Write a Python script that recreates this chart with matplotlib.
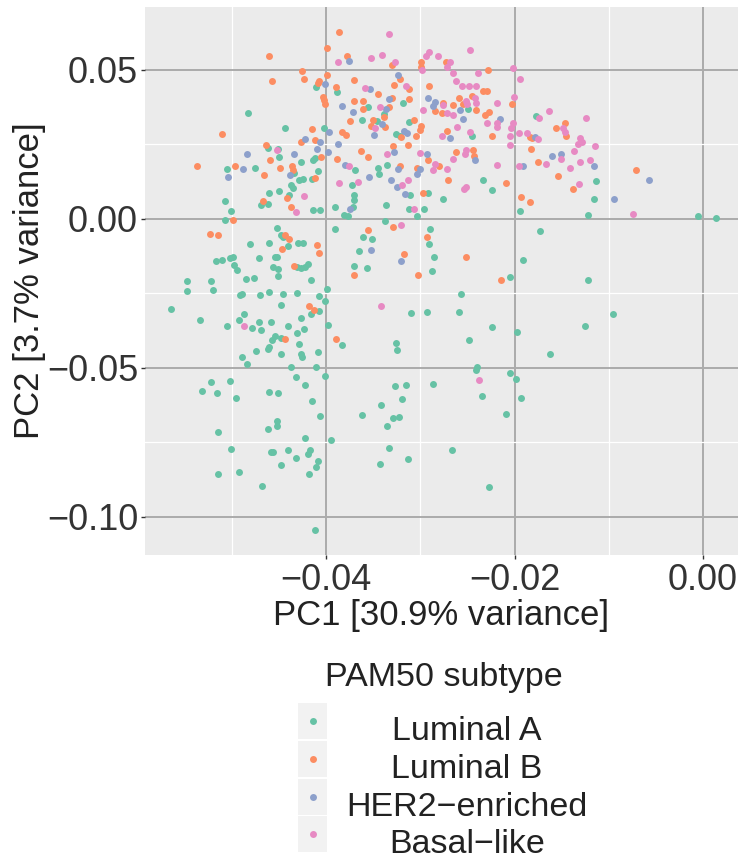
import numpy as np
import matplotlib.pyplot as plt
from matplotlib.ticker import FixedLocator, FuncFormatter
from matplotlib.patches import Rectangle

plt.rcParams['font.family'] = ['Liberation Sans', 'DejaVu Sans']

subtypes = ['Luminal A', 'Luminal B', 'HER2\u2212enriched', 'Basal\u2212like']
colors = ['#66C2A5', '#FC8D62', '#8DA0CB', '#E78AC3']

x_ticks = [-0.04, -0.02, 0.00]
y_ticks = [-0.10, -0.05, 0.00, 0.05]

# (PC1, PC2) per sample
lum_a = [
    (-0.0411, 0.0441), (-0.0388, 0.0425), (-0.0483, 0.0356), (-0.0444, 0.0305), (-0.0402, 0.0305),
    (-0.0462, 0.0237), (-0.0451, 0.0235), (-0.0412, 0.0204), (-0.0414, 0.0196), (-0.0450, 0.0206),
    (-0.0426, 0.0192), (-0.0505, 0.0167), (-0.0475, 0.0171), (-0.0434, 0.0155), (-0.0409, 0.0162),
    (-0.0415, 0.0133), (-0.0429, 0.0131), (-0.0424, 0.0133), (-0.0437, 0.0112), (-0.0435, 0.0103),
    (-0.0460, 0.0086), (-0.0450, 0.0093), (-0.0439, 0.0081), (-0.0507, 0.0059), (-0.0469, 0.0047),
    (-0.0462, 0.0050), (-0.0501, 0.0028), (-0.0414, 0.0030), (-0.0406, 0.0030), (-0.0390, 0.0041),
    (-0.0381, 0.0013), (-0.0507, -0.0004), (-0.0452, -0.0031), (-0.0448, -0.0054), (-0.0446, -0.0061),
    (-0.0390, -0.0034), (-0.0481, -0.0084), (-0.0460, -0.0082), (-0.0440, -0.0091), (-0.0430, -0.0082),
    (-0.0424, -0.0082), (-0.0452, -0.0127), (-0.0454, -0.0128), (-0.0471, -0.0132), (-0.0517, -0.0140),
    (-0.0510, -0.0137), (-0.0502, -0.0130), (-0.0499, -0.0127), (-0.0498, -0.0154), (-0.0494, -0.0171),
    (-0.0431, -0.0163), (-0.0426, -0.0165), (-0.0419, -0.0152), (-0.0422, -0.0160), (-0.0456, -0.0163),
    (-0.0451, -0.0169), (-0.0451, -0.0191), (-0.0485, -0.0202), (-0.0476, -0.0199), (-0.0416, -0.0205),
    (-0.0547, -0.0210), (-0.0547, -0.0241), (-0.0522, -0.0208), (-0.0520, -0.0238), (-0.0399, -0.0235),
    (-0.0491, -0.0255), (-0.0489, -0.0252), (-0.0470, -0.0255), (-0.0460, -0.0247), (-0.0446, -0.0252),
    (-0.0431, -0.0248), (-0.0407, -0.0258), (-0.0401, -0.0274), (-0.0448, -0.0289), (-0.0407, -0.0310),
    (-0.0416, -0.0320), (-0.0564, -0.0301), (-0.0534, -0.0341), (-0.0487, -0.0320), (-0.0492, -0.0339),
    (-0.0505, -0.0359), (-0.0478, -0.0365), (-0.0471, -0.0345), (-0.0469, -0.0374), (-0.0458, -0.0347),
    (-0.0440, -0.0359), (-0.0427, -0.0331), (-0.0431, -0.0382), (-0.0423, -0.0370), (-0.0398, -0.0356),
    (-0.0454, -0.0392), (-0.0457, -0.0408), (-0.0448, -0.0400), (-0.0383, -0.0422), (-0.0429, -0.0421),
    (-0.0474, -0.0442), (-0.0460, -0.0431), (-0.0462, -0.0437), (-0.0448, -0.0452), (-0.0427, -0.0452),
    (-0.0425, -0.0464), (-0.0408, -0.0447), (-0.0489, -0.0464), (-0.0484, -0.0486), (-0.0437, -0.0497),
    (-0.0411, -0.0497), (-0.0432, -0.0529), (-0.0401, -0.0527), (-0.0422, -0.0556), (-0.0522, -0.0546),
    (-0.0502, -0.0543), (-0.0532, -0.0576), (-0.0516, -0.0585), (-0.0496, -0.0601), (-0.0461, -0.0580),
    (-0.0451, -0.0585), (-0.0415, -0.0611), (-0.0406, -0.0662), (-0.0452, -0.0678), (-0.0452, -0.0694),
    (-0.0462, -0.0706), (-0.0515, -0.0714), (-0.0422, -0.0737), (-0.0395, -0.0741), (-0.0501, -0.0772),
    (-0.0458, -0.0784), (-0.0456, -0.0782), (-0.0440, -0.0775), (-0.0432, -0.0801), (-0.0417, -0.0776),
    (-0.0419, -0.0788), (-0.0409, -0.0811), (-0.0411, -0.0832), (-0.0448, -0.0826), (-0.0515, -0.0857),
    (-0.0492, -0.0849), (-0.0418, -0.0856), (-0.0468, -0.0898), (-0.0412, -0.1044), (-0.0362, -0.0659),
    (-0.0329, -0.0669), (-0.0323, -0.0665), (-0.0335, -0.0694), (-0.0209, -0.0655), (-0.0333, -0.0769),
    (-0.0343, -0.0822), (-0.0313, -0.0806), (-0.0266, -0.0775), (-0.0227, -0.0899), (-0.0288, -0.0175),
    (-0.0205, -0.0196), (-0.0257, -0.0253), (-0.0310, -0.0316), (-0.0293, -0.0314), (-0.0259, -0.0312),
    (-0.0224, -0.0363), (-0.0197, -0.0380), (-0.0248, -0.0405), (-0.0326, -0.0417), (-0.0325, -0.0441),
    (-0.0240, -0.0496), (-0.0241, -0.0508), (-0.0205, -0.0518), (-0.0199, -0.0538), (-0.0327, -0.0561),
    (-0.0315, -0.0556), (-0.0286, -0.0553), (-0.0319, -0.0603), (-0.0193, -0.0601), (-0.0235, -0.0593),
    (-0.0342, -0.0623), (-0.0122, -0.0205), (-0.0096, -0.0319), (-0.0125, -0.0359), (-0.0162, -0.0453),
    (-0.0114, 0.0128), (-0.0116, 0.0067), (-0.0122, 0.0013), (-0.0005, 0.0008), (0.0014, 0.0002),
    (-0.0173, -0.0041), (-0.0177, 0.0346), (-0.0355, 0.0377), (-0.0318, 0.0388), (-0.0249, 0.0368),
    (-0.0339, 0.0352), (-0.0362, 0.0332), (-0.0346, 0.0327), (-0.0312, 0.0325), (-0.0326, 0.0284),
    (-0.0322, 0.0279), (-0.0245, 0.0279), (-0.0345, 0.0170), (-0.0344, 0.0150), (-0.0335, 0.0181),
    (-0.0369, 0.0164), (-0.0372, 0.0112), (-0.0234, 0.0131), (-0.0224, 0.0097), (-0.0292, 0.0086),
    (-0.0276, 0.0067), (-0.0311, 0.0081), (-0.0336, 0.0047), (-0.0370, 0.0081), (-0.0370, 0.0064),
    (-0.0371, 0.0041), (-0.0377, 0.0008), (-0.0312, 0.0034), (-0.0296, 0.0033), (-0.0304, 0.0008),
    (-0.0194, 0.0026), (-0.0337, -0.0006), (-0.0361, -0.0060), (-0.0351, -0.0066), (-0.0290, -0.0035),
    (-0.0291, -0.0085), (-0.0365, -0.0107), (-0.0285, -0.0129), (-0.0370, -0.0157), (-0.0357, -0.0165),
    (-0.0191, -0.0139),
]

lum_b = [
    (-0.0386, 0.0627), (-0.0399, 0.0572), (-0.0460, 0.0547), (-0.0425, 0.0496), (-0.0423, 0.0470),
    (-0.0399, 0.0484), (-0.0457, 0.0461), (-0.0407, 0.0461), (-0.0408, 0.0455), (-0.0389, 0.0441),
    (-0.0403, 0.0410), (-0.0402, 0.0399), (-0.0401, 0.0385), (-0.0415, 0.0302), (-0.0383, 0.0291),
    (-0.0510, 0.0284), (-0.0464, 0.0248), (-0.0427, 0.0259), (-0.0412, 0.0266), (-0.0405, 0.0207),
    (-0.0388, 0.0200), (-0.0459, 0.0198), (-0.0537, 0.0179), (-0.0497, 0.0178), (-0.0449, 0.0171),
    (-0.0436, 0.0178), (-0.0435, 0.0165), (-0.0466, 0.0148), (-0.0412, 0.0137), (-0.0441, 0.0069),
    (-0.0467, 0.0059), (-0.0437, 0.0041), (-0.0499, -0.0004), (-0.0523, -0.0050), (-0.0515, -0.0055),
    (-0.0443, -0.0054), (-0.0439, -0.0067), (-0.0447, -0.0102), (-0.0410, -0.0087), (-0.0407, -0.0115),
    (-0.0434, -0.0158), (-0.0418, -0.0294), (-0.0413, -0.0305), (-0.0444, -0.0404), (-0.0389, -0.0404),
    (-0.0370, -0.0190), (-0.0302, -0.0188), (-0.0214, -0.0204), (-0.0145, 0.0279), (-0.0175, 0.0190),
    (-0.0154, 0.0145), (-0.0138, 0.0100), (-0.0071, 0.0164), (-0.0146, 0.0322), (-0.0156, 0.0306),
    (-0.0378, 0.0548), (-0.0330, 0.0516), (-0.0299, 0.0526), (-0.0299, 0.0508), (-0.0273, 0.0528),
    (-0.0228, 0.0500), (-0.0322, 0.0469), (-0.0370, 0.0466), (-0.0328, 0.0450), (-0.0312, 0.0435),
    (-0.0291, 0.0446), (-0.0233, 0.0430), (-0.0229, 0.0430), (-0.0345, 0.0418), (-0.0245, 0.0414),
    (-0.0312, 0.0403), (-0.0330, 0.0404), (-0.0259, 0.0404), (-0.0370, 0.0394), (-0.0361, 0.0397),
    (-0.0333, 0.0377), (-0.0361, 0.0368), (-0.0203, 0.0385), (-0.0276, 0.0390), (-0.0265, 0.0383),
    (-0.0255, 0.0385), (-0.0241, 0.0366), (-0.0284, 0.0362), (-0.0277, 0.0355), (-0.0231, 0.0349),
    (-0.0227, 0.0358), (-0.0338, 0.0343), (-0.0375, 0.0328), (-0.0350, 0.0332), (-0.0352, 0.0310),
    (-0.0337, 0.0308), (-0.0307, 0.0332), (-0.0299, 0.0313), (-0.0300, 0.0299), (-0.0320, 0.0276),
    (-0.0305, 0.0279), (-0.0379, 0.0282), (-0.0272, 0.0295), (-0.0224, 0.0279), (-0.0184, 0.0276),
    (-0.0181, 0.0272), (-0.0313, 0.0248), (-0.0183, 0.0235), (-0.0363, 0.0228), (-0.0355, 0.0207),
    (-0.0329, 0.0243), (-0.0292, 0.0196), (-0.0262, 0.0224), (-0.0244, 0.0232), (-0.0243, 0.0212),
    (-0.0280, 0.0179), (-0.0271, 0.0132), (-0.0303, 0.0170), (-0.0321, 0.0178), (-0.0209, 0.0120),
    (-0.0297, 0.0086), (-0.0193, 0.0074), (-0.0184, 0.0058), (-0.0329, -0.0028), (-0.0355, -0.0037),
    (-0.0293, -0.0061), (-0.0317, -0.0117), (-0.0252, -0.0129),
]

her2 = [
    (-0.0401, 0.0453), (-0.0383, 0.0379), (-0.0397, 0.0290), (-0.0422, 0.0267), (-0.0406, 0.0259),
    (-0.0387, 0.0252), (-0.0410, 0.0234), (-0.0398, 0.0226), (-0.0434, 0.0217), (-0.0484, 0.0219),
    (-0.0488, 0.0167), (-0.0438, 0.0148), (-0.0504, 0.0142), (-0.0160, 0.0210), (-0.0151, 0.0218),
    (-0.0116, 0.0179), (-0.0057, 0.0131), (-0.0094, 0.0066), (-0.0178, 0.0275), (-0.0376, 0.0530),
    (-0.0324, 0.0484), (-0.0353, 0.0435), (-0.0333, 0.0402), (-0.0292, 0.0406), (-0.0371, 0.0358),
    (-0.0284, 0.0392), (-0.0286, 0.0379), (-0.0258, 0.0366), (-0.0255, 0.0336), (-0.0215, 0.0335),
    (-0.0336, 0.0370), (-0.0341, 0.0319), (-0.0317, 0.0295), (-0.0314, 0.0288), (-0.0349, 0.0282),
    (-0.0269, 0.0271), (-0.0328, 0.0224), (-0.0293, 0.0217), (-0.0242, 0.0198), (-0.0300, 0.0168),
    (-0.0304, 0.0150), (-0.0325, 0.0106), (-0.0331, 0.0129), (-0.0324, 0.0167), (-0.0354, 0.0139),
    (-0.0380, 0.0181), (-0.0191, 0.0176), (-0.0316, 0.0083), (-0.0375, 0.0034), (-0.0352, -0.0106),
    (-0.0320, -0.0140),
]

basal = [
    (-0.0387, 0.0526), (-0.0452, 0.0232), (-0.0386, 0.0120), (-0.0423, 0.0078), (-0.0432, 0.0024),
    (-0.0487, -0.0361), (-0.0342, -0.0294), (-0.0238, -0.0541), (-0.0175, 0.0268), (-0.0131, 0.0273),
    (-0.0129, 0.0259), (-0.0133, 0.0251), (-0.0115, 0.0246), (-0.0137, 0.0229), (-0.0151, 0.0201),
    (-0.0167, 0.0184), (-0.0141, 0.0171), (-0.0131, 0.0190), (-0.0120, 0.0196), (-0.0132, 0.0116),
    (-0.0074, 0.0018), (-0.0163, 0.0363), (-0.0174, 0.0338), (-0.0124, 0.0338), (-0.0149, 0.0305),
    (-0.0147, 0.0290), (-0.0333, 0.0622), (-0.0291, 0.0561), (-0.0294, 0.0545), (-0.0281, 0.0548),
    (-0.0247, 0.0567), (-0.0352, 0.0539), (-0.0341, 0.0551), (-0.0327, 0.0525), (-0.0298, 0.0498),
    (-0.0269, 0.0527), (-0.0272, 0.0508), (-0.0265, 0.0491), (-0.0239, 0.0490), (-0.0202, 0.0506),
    (-0.0194, 0.0469), (-0.0262, 0.0463), (-0.0256, 0.0446), (-0.0248, 0.0447), (-0.0241, 0.0446),
    (-0.0315, 0.0446), (-0.0359, 0.0439), (-0.0201, 0.0410), (-0.0242, 0.0404), (-0.0241, 0.0390),
    (-0.0343, 0.0377), (-0.0219, 0.0388), (-0.0276, 0.0383), (-0.0252, 0.0394), (-0.0250, 0.0386),
    (-0.0297, 0.0367), (-0.0272, 0.0355), (-0.0265, 0.0347), (-0.0229, 0.0321), (-0.0219, 0.0321),
    (-0.0219, 0.0309), (-0.0261, 0.0309), (-0.0348, 0.0305), (-0.0247, 0.0291), (-0.0204, 0.0304),
    (-0.0202, 0.0321), (-0.0195, 0.0288), (-0.0187, 0.0288), (-0.0205, 0.0279), (-0.0277, 0.0279),
    (-0.0205, 0.0248), (-0.0335, 0.0217), (-0.0300, 0.0222), (-0.0251, 0.0232), (-0.0253, 0.0217),
    (-0.0265, 0.0200), (-0.0284, 0.0184), (-0.0287, 0.0164), (-0.0272, 0.0167), (-0.0313, 0.0129),
    (-0.0319, 0.0112), (-0.0376, 0.0178), (-0.0366, 0.0124), (-0.0219, 0.0181), (-0.0195, 0.0176),
    (-0.0254, 0.0101), (-0.0252, 0.0108), (-0.0307, 0.0034), (-0.0320, -0.0020),
]

groups = [lum_a, lum_b, her2, basal]


def fmt(v, pos):
    if abs(v) < 1e-9:
        v = 0.0
    return f'{v:.2f}'.replace('-', '\u2212')


W, H = 738, 855
fig = plt.figure(figsize=(W / 100, H / 100), dpi=100)
ax = fig.add_axes([145 / W, 1 - 555 / H, (W - 145) / W, 548 / H])
ax.set_facecolor('#EBEBEB')
for s in ax.spines.values():
    s.set_visible(False)

for pts, col in zip(groups, colors):
    arr = np.array(pts)
    ax.scatter(arr[:, 0], arr[:, 1], s=25, color=col, linewidths=0, zorder=3)

ax.set_xlim(-0.0592, 0.0037)
ax.set_ylim(-0.1128, 0.0711)
ax.xaxis.set_major_locator(FixedLocator(x_ticks))
ax.yaxis.set_major_locator(FixedLocator(y_ticks))
ax.xaxis.set_minor_locator(FixedLocator([-0.05, -0.03, -0.01]))
ax.yaxis.set_minor_locator(FixedLocator([-0.075, -0.025, 0.025]))
ax.xaxis.set_major_formatter(FuncFormatter(fmt))
ax.yaxis.set_major_formatter(FuncFormatter(fmt))
ax.set_axisbelow(True)
ax.grid(which='minor', color='white', lw=0.9)
ax.grid(which='major', color='#ABABAB', lw=1.4)
ax.tick_params(which='major', length=3, width=1.0, color='#333333',
               labelsize=26, labelcolor='#333333', pad=2)
ax.tick_params(which='minor', length=0)
ax.tick_params(axis='x', pad=3)

fig.text(441 / W, 1 - 615 / H, 'PC1 [30.9% variance]', ha='center', va='center',
         fontsize=25, color='#222222')
fig.text(30 / W, 1 - 281 / H, 'PC2 [3.7% variance]', ha='center', va='center',
         rotation=90, fontsize=25, color='#222222')

# legend below the panel
lay = fig.add_axes([0, 0, 1, 1])
lay.set_xlim(0, W)
lay.set_ylim(H, 0)
lay.axis('off')
lay.text(444, 677, 'PAM50 subtype', ha='center', va='center', fontsize=24.5, color='#222222')
key_tops = [703, 741, 779, 816]
for top, lab, col in zip(key_tops, subtypes, colors):
    lay.add_patch(Rectangle((298, top), 29, 36, facecolor='#F2F2F2', edgecolor='none'))
    lay.scatter([312.5], [top + 18], s=25, color=col, linewidths=0)
    lay.text(467, top + 37, lab, ha='center', va='baseline', fontsize=24.5, color='#222222')

fig.savefig('out.png', dpi=100)
